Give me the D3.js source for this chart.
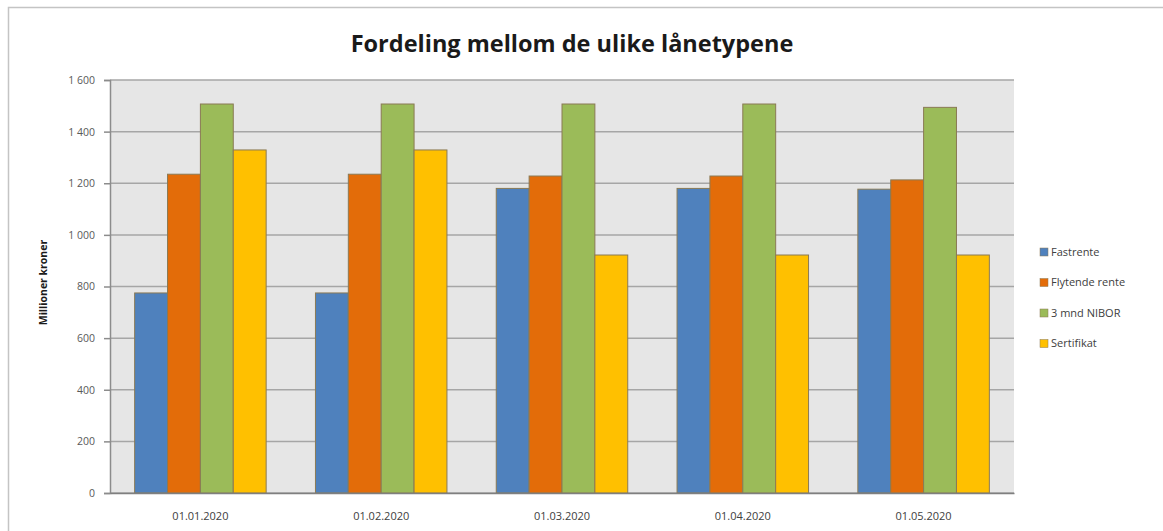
<!DOCTYPE html>
<html lang="no">
  <head>
    <meta charset="utf-8">
    <title>Fordeling mellom de ulike lånetypene</title>
    <style>
      body { margin: 0; background: #fff; }
      text { font-family: "Open Sans", "DejaVu Sans", sans-serif; }
    </style>
  </head>
  <body>
<script src="https://d3js.org/d3.v7.min.js"></script>
<script>
// data
var dates = ["01.01.2020", "01.02.2020", "01.03.2020", "01.04.2020", "01.05.2020"];
var seriesNames = ["Fastrente", "Flytende rente", "3 mnd NIBOR", "Sertifikat"];
var fastrente = [775, 775, 1180, 1180, 1177];
var flytende = [1235, 1235, 1228, 1228, 1213];
var nibor = [1507, 1507, 1507, 1507, 1494];
var sertifikat = [1329, 1329, 922, 922, 922];
var yTicks = [0, 200, 400, 600, 800, 1000, 1200, 1400, 1600];
var colors = ["#4f81bd", "#e36c09", "#9bbb59", "#ffc000"];

var series = [fastrente, flytende, nibor, sertifikat];

var W = 1163, H = 531;
var margin = {top: 80, right: 149, bottom: 38, left: 110};
var w = W - margin.left - margin.right,
    h = H - margin.top - margin.bottom;

var svg = d3.select("body").append("svg")
  .attr("width", W)
  .attr("height", H);

// outer chart frame
svg.append("rect")
  .attr("x", 8.5).attr("y", 7.5)
  .attr("width", W + 10).attr("height", H + 10)
  .attr("fill", "none")
  .attr("stroke", "#c4c4c4")
  .attr("stroke-width", 1.5);

svg.append("text")
  .attr("x", 572).attr("y", 52)
  .attr("text-anchor", "middle")
  .style("font-size", "23.5px")
  .style("font-weight", "bold")
  .attr("fill", "#1a1a1a")
  .text("Fordeling mellom de ulike lånetypene");

var g = svg.append("g")
  .attr("transform", "translate(" + margin.left + "," + margin.top + ")");

var x0 = d3.scaleBand()
  .domain(dates)
  .range([0, w])
  .paddingInner(1.5 / 5.5)
  .paddingOuter(0.75 / 5.5);

var x1 = d3.scaleBand()
  .domain(d3.range(seriesNames.length))
  .range([0, x0.bandwidth()]);

var y = d3.scaleLinear()
  .domain([0, 1600])
  .range([h, 0]);

// plot background
g.append("rect")
  .attr("width", w).attr("height", h)
  .attr("fill", "#e6e6e6");

// gridlines
g.selectAll(".grid")
  .data(yTicks)
  .enter()
  .append("line")
    .attr("x1", 0).attr("x2", w)
    .attr("y1", (d) => y(d)).attr("y2", (d) => y(d))
    .attr("stroke", "#a6a6a6")
    .attr("stroke-width", 1.5);

// y axis
var yAxis = g.append("g")
  .call(d3.axisLeft(y)
    .tickValues(yTicks)
    .tickSize(6)
    .tickPadding(9)
    .tickFormat((d) => d3.format(",")(d).replace(",", " ")));
yAxis.select(".domain").attr("stroke", "#8c8c8c").attr("stroke-width", 1.5);
yAxis.selectAll(".tick line").attr("stroke", "#8c8c8c").attr("stroke-width", 1.5);
yAxis.selectAll("text")
  .style("font-size", "10.5px")
  .style("font-family", "'Open Sans', sans-serif")
  .attr("fill", "#595959");

// bars
var groups = g.selectAll(".group")
  .data(dates)
  .enter()
  .append("g")
    .attr("transform", (d) => "translate(" + x0(d) + ",0)");

groups.selectAll("rect")
  .data((d, i) => series.map((s, k) => ({k: k, v: s[i]})))
  .enter()
  .append("rect")
    .attr("x", (d) => x1(d.k))
    .attr("width", x1.bandwidth())
    .attr("y", (d) => y(d.v))
    .attr("height", (d) => h - y(d.v))
    .attr("fill", (d) => colors[d.k])
    .attr("stroke", "#8a7a55")
    .attr("stroke-width", 1);

// x axis
var xAxis = g.append("g")
  .attr("transform", "translate(0," + h + ")")
  .call(d3.axisBottom(x0).tickSize(0).tickPadding(19));
xAxis.select(".domain").attr("stroke", "#7f7f7f").attr("stroke-width", 1.5);
xAxis.selectAll("text")
  .style("font-size", "11px")
  .style("font-family", "'Open Sans', sans-serif")
  .attr("fill", "#404040");

// y axis title
svg.append("text")
  .attr("transform", "translate(47," + (margin.top + h / 2 - 4) + ") rotate(-90)")
  .attr("text-anchor", "middle")
  .style("font-size", "10.5px")
  .style("font-weight", "bold")
  .attr("fill", "#1a1a1a")
  .text("Millioner kroner");

// legend
var legend = svg.selectAll(".legend")
  .data(seriesNames)
  .enter()
  .append("g")
    .attr("transform", (d, i) => "translate(1040," + (252 + i * 30.5) + ")");

legend.append("rect")
  .attr("x", 0).attr("y", -4)
  .attr("width", 8).attr("height", 8)
  .attr("fill", (d, i) => colors[i])
  .attr("stroke", "#8a7a55")
  .attr("stroke-width", 0.5);

legend.append("text")
  .attr("x", 11).attr("dy", "0.35em")
  .style("font-size", "11px")
  .attr("fill", "#404040")
  .text((d) => d);
</script>
  </body>
</html>
